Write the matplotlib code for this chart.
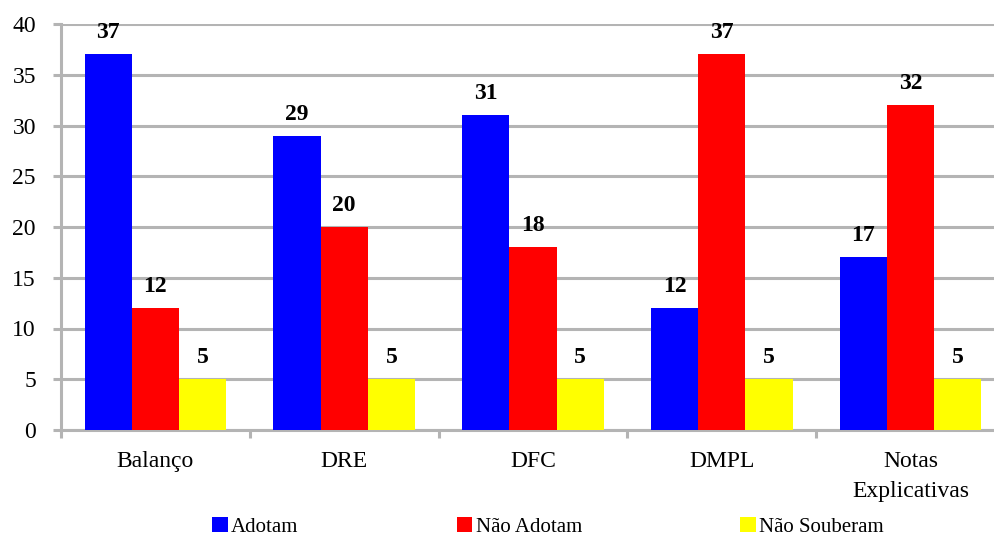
import matplotlib.pyplot as plt
import numpy as np

# survey results per financial statement
categories = ['Balanço', 'DRE', 'DFC', 'DMPL', 'Notas\nExplicativas']
adotam = [37, 29, 31, 12, 17]
nao_adotam = [12, 20, 18, 37, 32]
nao_souberam = [5, 5, 5, 5, 5]
series_names = ['Adotam', 'Não Adotam', 'Não Souberam']
colors = ['#0000FF', '#FF0000', '#FFFF00']

plt.rcParams['font.family'] = ['Liberation Serif', 'DejaVu Serif']
grey = '#b4b4b4'

fig = plt.figure(figsize=(9.95, 5.36), dpi=100)
ax = fig.add_axes([61/995, 106/536, 944/995, 406/536])

x = np.arange(len(categories))
w = 0.25
for i, (vals, name, col) in enumerate(zip([adotam, nao_adotam, nao_souberam], series_names, colors)):
    pos = x + (i - 1) * w
    ax.bar(pos, vals, width=w, color=col, label=name, zorder=3)
    for xp, v in zip(pos, vals):
        ax.annotate(str(v), (xp, v), xytext=(0, 8), textcoords='offset points',
                    ha='center', va='bottom', fontsize=17, fontweight='bold')

ax.set_xlim(-0.5, len(categories) - 0.5)
ax.set_ylim(0, 40)
ax.set_yticks(range(0, 41, 5))
ax.yaxis.grid(True, color=grey, linewidth=2.2, zorder=0)
ax.set_axisbelow(True)

# category ticks sit between groups
ax.set_xticks(np.arange(-0.5, len(categories), 1.0))
ax.set_xticklabels([])
ax.set_xticks(x, minor=True)
ax.set_xticklabels(categories, minor=True, fontsize=17, linespacing=1.6)
ax.tick_params(axis='x', which='minor', length=0, pad=15)
ax.tick_params(axis='x', which='major', length=6, width=2.2, color=grey)
ax.tick_params(axis='y', length=6, width=2.2, color=grey, labelsize=17, pad=12)

for side in ['top', 'right']:
    ax.spines[side].set_visible(False)
for side in ['left', 'bottom']:
    ax.spines[side].set_color(grey)
    ax.spines[side].set_linewidth(2.2)

fig.legend(loc='lower center', bbox_to_anchor=(548/995, -0.037), ncol=3, frameon=False,
           fontsize=15, handlelength=0.75, handleheight=0.75, handletextpad=0.15,
           columnspacing=7.6)

fig.savefig('out.png', dpi=100)
